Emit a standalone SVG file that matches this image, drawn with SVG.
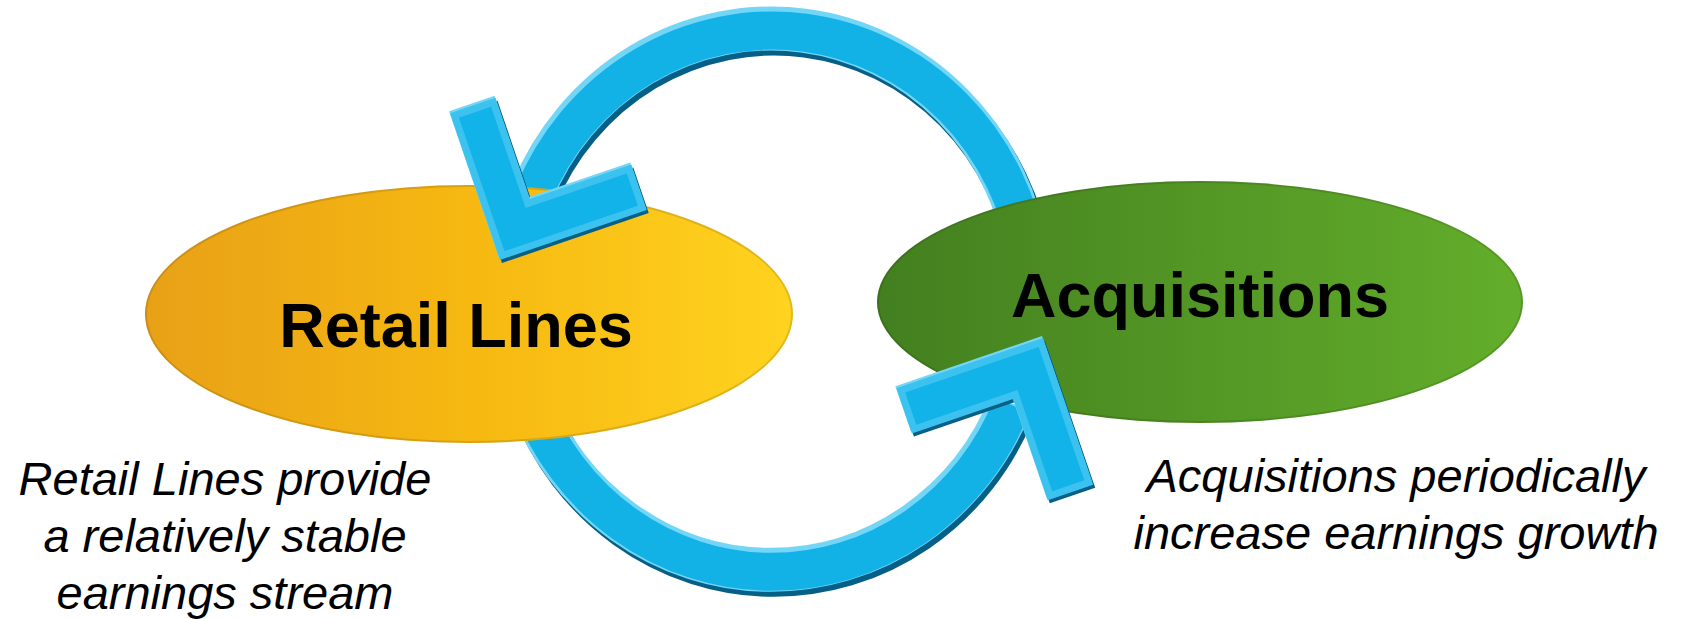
<svg xmlns="http://www.w3.org/2000/svg" xmlns:xlink="http://www.w3.org/1999/xlink" width="1684" height="619" viewBox="0 0 1684 619">
  <style>
    .title { font-family: "Liberation Sans", Arial, sans-serif; font-weight: bold; font-size: 63px; fill: #000; text-anchor: middle; }
    .note { font-family: "Liberation Sans", Arial, sans-serif; font-style: italic; font-size: 47px; fill: #000; text-anchor: middle; }
    .arcShadow { fill: none; stroke: #065f87; stroke-width: 44; }
    .arcLight { fill: none; stroke: #74d6f6; stroke-width: 44; }
    .arcBody { fill: none; stroke: #12b2e6; stroke-width: 38; }
    .rim { fill: none; stroke: #000; stroke-opacity: 0.12; stroke-width: 2; }
  </style>
  <defs>
    <linearGradient id="gYellow" x1="0" y1="0" x2="1" y2="0">
      <stop offset="0" stop-color="#E8A117"/>
      <stop offset="0.5" stop-color="#F6B811"/>
      <stop offset="1" stop-color="#FFD31F"/>
    </linearGradient>
    <linearGradient id="gGreen" x1="0" y1="0" x2="1" y2="0">
      <stop offset="0" stop-color="#437F1F"/>
      <stop offset="1" stop-color="#63AE2B"/>
    </linearGradient>
    <polygon id="chev" points="0,0 155,0 155,48 48,48 48,155 0,155"/>
    <polygon id="chevIn" points="7,7 148,7 148,41 41,41 41,148 7,148"/>
    <path id="arcTop" d="M 1029 260 A 260 271 0 0 0 533 195"/>
    <path id="arcBottom" d="M 530 400 A 260 271 0 0 0 1012 405"/>
  </defs>

  <rect width="1684" height="619" fill="#ffffff"/>

  <g id="connectors">
    <g id="loop-top">
      <use xlink:href="#arcTop" class="arcShadow" transform="translate(2,3)"/>
      <use xlink:href="#arcTop" class="arcLight" transform="translate(-1,-2)"/>
      <use xlink:href="#arcTop" class="arcBody"/>
    </g>
    <g id="loop-bottom">
      <use xlink:href="#arcBottom" class="arcShadow" transform="translate(2,3)"/>
      <use xlink:href="#arcBottom" class="arcLight" transform="translate(-1,-2)"/>
      <use xlink:href="#arcBottom" class="arcBody"/>
    </g>
  </g>

  <g id="node-retail">
    <ellipse cx="469" cy="314" rx="324" ry="129" fill="url(#gYellow)"/>
    <ellipse cx="469" cy="314" rx="323" ry="128" class="rim"/>
    <text x="456" y="347" class="title">Retail Lines</text>
  </g>

  <g id="node-acquisitions">
    <ellipse cx="1200" cy="302" rx="323" ry="121" fill="url(#gGreen)"/>
    <ellipse cx="1200" cy="302" rx="322" ry="120" class="rim"/>
    <text x="1200" y="317" class="title">Acquisitions</text>
  </g>

  <g id="arrowheads">
    <g id="arrowhead-top">
      <g transform="translate(2,3)"><use xlink:href="#chev" fill="#065f87" transform="matrix(0.9467,-0.3223,-0.3223,-0.9467,500,260)"/></g>
      <g transform="translate(-1,-2)"><use xlink:href="#chev" fill="#74d6f6" transform="matrix(0.9467,-0.3223,-0.3223,-0.9467,500,260)"/></g>
      <use xlink:href="#chev" fill="#3cc2ee" transform="matrix(0.9467,-0.3223,-0.3223,-0.9467,500,260)"/>
      <use xlink:href="#chevIn" fill="#12b3e8" transform="matrix(0.9467,-0.3223,-0.3223,-0.9467,500,260)"/>
    </g>
    <g id="arrowhead-bottom">
      <g transform="translate(2,3)"><use xlink:href="#chev" fill="#065f87" transform="matrix(0.3239,0.9461,-0.9461,0.3239,1043,338)"/></g>
      <g transform="translate(-1,-2)"><use xlink:href="#chev" fill="#74d6f6" transform="matrix(0.3239,0.9461,-0.9461,0.3239,1043,338)"/></g>
      <use xlink:href="#chev" fill="#3cc2ee" transform="matrix(0.3239,0.9461,-0.9461,0.3239,1043,338)"/>
      <use xlink:href="#chevIn" fill="#12b3e8" transform="matrix(0.3239,0.9461,-0.9461,0.3239,1043,338)"/>
    </g>
  </g>

  <g id="note-retail">
    <text x="225" y="495" class="note">Retail Lines provide</text>
    <text x="225" y="552" class="note">a relatively stable</text>
    <text x="225" y="609" class="note">earnings stream</text>
  </g>
  <g id="note-acquisitions">
    <text x="1396" y="492" class="note">Acquisitions periodically</text>
    <text x="1396" y="549" class="note">increase earnings growth</text>
  </g>
</svg>
